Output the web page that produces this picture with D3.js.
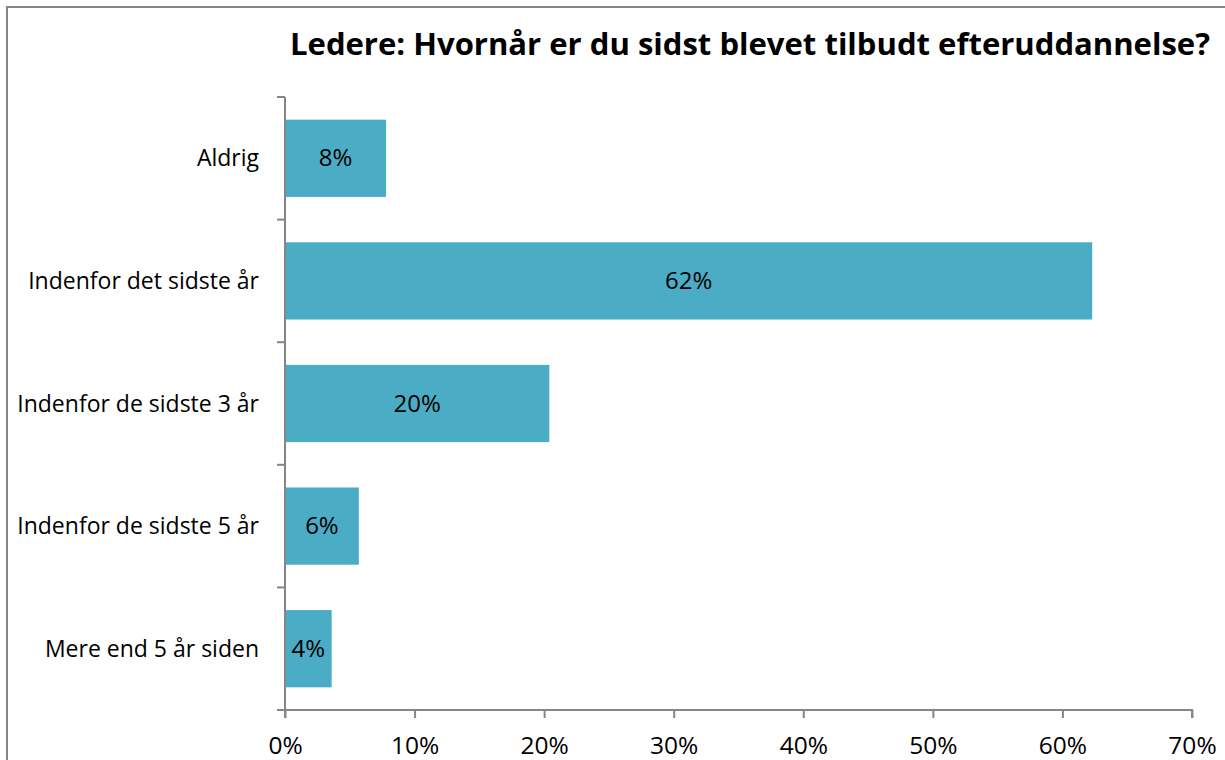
<!DOCTYPE html>
<html lang="da">
<head>
    <meta charset="UTF-8">
    <title>Ledere: Hvornår er du sidst blevet tilbudt efteruddannelse?</title>
    <script src="https://cdnjs.cloudflare.com/ajax/libs/d3/7.8.5/d3.min.js"></script>
    <style>
        body { margin: 0; background: white; overflow: hidden; }
        svg { display: block; font-family: "Open Sans", "Liberation Sans", sans-serif; }
        .axis path, .axis line { stroke: #868686; stroke-width: 2px; }
    </style>
</head>
<body>
<svg width="1225" height="760"></svg>
<script>
    // data
    const categories = ["Aldrig", "Indenfor det sidste år", "Indenfor de sidste 3 år", "Indenfor de sidste 5 år", "Mere end 5 år siden"];
    const values = [7.8, 62.3, 20.4, 5.7, 3.6];
    const labels = ["8%", "62%", "20%", "6%", "4%"];
    const xTicks = [0, 10, 20, 30, 40, 50, 60, 70];

    const svg = d3.select("svg");

    // outer frame
    svg.append("rect")
        .attr("x", 7).attr("y", 7)
        .attr("width", 1240).attr("height", 780)
        .attr("fill", "none")
        .attr("stroke", "#868686")
        .attr("stroke-width", 2);

    svg.append("text")
        .attr("x", 750).attr("y", 55)
        .attr("text-anchor", "middle")
        .style("font-weight", "bold")
        .style("font-size", "30px")
        .attr("textLength", 920)
        .attr("lengthAdjust", "spacingAndGlyphs")
        .text("Ledere: Hvornår er du sidst blevet tilbudt efteruddannelse?");

    const x = d3.scaleLinear().domain([0, 70]).range([285, 1192]);
    const y = d3.scaleBand().domain(categories).range([97, 710]).paddingInner(0.37).paddingOuter(0.185);

    // bars
    svg.selectAll(".bar")
        .data(values)
        .enter()
        .append("rect")
        .attr("class", "bar")
        .attr("x", x(0))
        .attr("y", (d, i) => y(categories[i]))
        .attr("width", d => x(d) - x(0))
        .attr("height", y.bandwidth())
        .attr("fill", "#4BACC6");

    // value labels
    svg.selectAll(".lbl")
        .data(values)
        .enter()
        .append("text")
        .attr("class", "lbl")
        .attr("x", d => (x(0) + x(d)) / 2)
        .attr("y", (d, i) => y(categories[i]) + y.bandwidth() / 2 + 8)
        .attr("text-anchor", "middle")
        .style("font-size", "24px")
        .text((d, i) => labels[i]);

    // y axis, ticks between categories
    const yAxis = svg.append("g").attr("class", "axis");
    yAxis.append("line")
        .attr("x1", x(0)).attr("x2", x(0))
        .attr("y1", 97).attr("y2", 718);
    const step = y.step();
    d3.range(categories.length).forEach(i => {
        yAxis.append("line")
            .attr("x1", x(0) - 8).attr("x2", x(0))
            .attr("y1", 97 + i * step).attr("y2", 97 + i * step);
    });
    yAxis.selectAll(".cat")
        .data(categories)
        .enter()
        .append("text")
        .attr("x", 259)
        .attr("y", d => y(d) + y.bandwidth() / 2 + 8)
        .attr("text-anchor", "end")
        .style("font-size", "23px")
        .style("stroke", "none")
        .text(d => d);

    // x axis
    const xAxis = svg.append("g")
        .attr("class", "axis")
        .attr("transform", "translate(0,710)")
        .call(d3.axisBottom(x).tickValues(xTicks).tickSize(8).tickSizeOuter(8).tickFormat(d => d + "%"));
    xAxis.select(".domain").attr("d", "M277,0H" + x(70) + "V8");
    xAxis.selectAll("text")
        .attr("y", 27)
        .style("font-size", "24.5px")
        .style("font-family", "\"Open Sans\", \"Liberation Sans\", sans-serif")
        .attr("fill", "#000");
</script>
</body>
</html>
